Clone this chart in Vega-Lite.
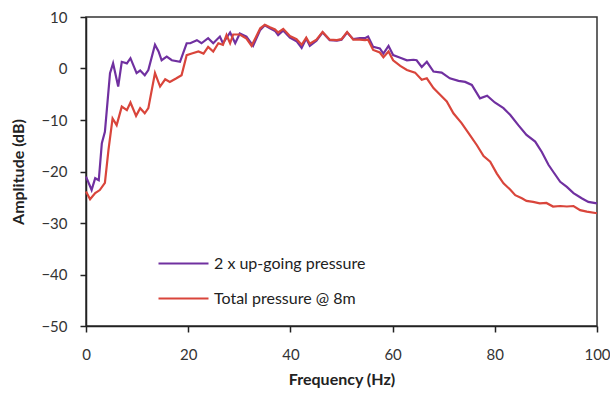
{
  "$schema": "https://vega.github.io/schema/vega-lite/v6.json",
  "width": 511,
  "height": 309,
  "autosize": "none",
  "padding": {"left": 86, "top": 17, "right": 13, "bottom": 67},
  "config": {
    "font": "Lato",
    "view": {"stroke": "#333", "strokeWidth": 1.5},
    "axis": {"grid": false, "domainColor": "#222", "domainWidth": 1.5, "tickColor": "#222", "tickWidth": 1.5, "tickSize": 6, "labelFont": "Lato", "labelFontSize": 15, "labelColor": "#333", "titleFont": "Lato", "titleFontSize": 16, "titleFontWeight": "bold", "titleColor": "#222"}
  },
  "datasets": {
    "pts": [
      {"f":0.0,"a":-21.0,"s":"2 x up-going pressure"},{"f":1.1,"a":-23.6,"s":"2 x up-going pressure"},{"f":1.8,"a":-21.3,"s":"2 x up-going pressure"},{"f":2.5,"a":-21.7,"s":"2 x up-going pressure"},{"f":3.1,"a":-14.5,"s":"2 x up-going pressure"},{"f":3.7,"a":-12.3,"s":"2 x up-going pressure"},{"f":4.7,"a":-0.9,"s":"2 x up-going pressure"},{"f":5.3,"a":1.0,"s":"2 x up-going pressure"},{"f":6.3,"a":-3.5,"s":"2 x up-going pressure"},{"f":7.0,"a":1.3,"s":"2 x up-going pressure"},{"f":8.0,"a":1.0,"s":"2 x up-going pressure"},{"f":8.7,"a":2.0,"s":"2 x up-going pressure"},{"f":9.9,"a":-0.9,"s":"2 x up-going pressure"},{"f":10.6,"a":-0.4,"s":"2 x up-going pressure"},{"f":11.5,"a":-1.3,"s":"2 x up-going pressure"},{"f":12.2,"a":-0.3,"s":"2 x up-going pressure"},{"f":13.5,"a":4.6,"s":"2 x up-going pressure"},{"f":14.2,"a":3.3,"s":"2 x up-going pressure"},{"f":14.8,"a":1.6,"s":"2 x up-going pressure"},{"f":15.8,"a":2.3,"s":"2 x up-going pressure"},{"f":16.8,"a":1.6,"s":"2 x up-going pressure"},{"f":18.4,"a":1.3,"s":"2 x up-going pressure"},{"f":19.7,"a":4.9,"s":"2 x up-going pressure"},{"f":20.4,"a":4.9,"s":"2 x up-going pressure"},{"f":21.7,"a":5.5,"s":"2 x up-going pressure"},{"f":22.6,"a":4.9,"s":"2 x up-going pressure"},{"f":23.9,"a":5.9,"s":"2 x up-going pressure"},{"f":24.9,"a":4.9,"s":"2 x up-going pressure"},{"f":26.2,"a":6.2,"s":"2 x up-going pressure"},{"f":26.8,"a":4.9,"s":"2 x up-going pressure"},{"f":28.2,"a":7.0,"s":"2 x up-going pressure"},{"f":29.2,"a":4.9,"s":"2 x up-going pressure"},{"f":30.1,"a":6.8,"s":"2 x up-going pressure"},{"f":31.4,"a":6.2,"s":"2 x up-going pressure"},{"f":32.7,"a":4.4,"s":"2 x up-going pressure"},{"f":34.1,"a":7.5,"s":"2 x up-going pressure"},{"f":35.0,"a":8.4,"s":"2 x up-going pressure"},{"f":36.0,"a":7.8,"s":"2 x up-going pressure"},{"f":37.0,"a":7.3,"s":"2 x up-going pressure"},{"f":37.6,"a":6.5,"s":"2 x up-going pressure"},{"f":38.6,"a":7.4,"s":"2 x up-going pressure"},{"f":39.9,"a":6.0,"s":"2 x up-going pressure"},{"f":41.2,"a":5.3,"s":"2 x up-going pressure"},{"f":42.2,"a":4.0,"s":"2 x up-going pressure"},{"f":43.1,"a":5.8,"s":"2 x up-going pressure"},{"f":43.8,"a":4.4,"s":"2 x up-going pressure"},{"f":45.1,"a":5.4,"s":"2 x up-going pressure"},{"f":46.3,"a":7.0,"s":"2 x up-going pressure"},{"f":47.7,"a":5.5,"s":"2 x up-going pressure"},{"f":49.1,"a":5.4,"s":"2 x up-going pressure"},{"f":50.0,"a":5.6,"s":"2 x up-going pressure"},{"f":51.1,"a":7.0,"s":"2 x up-going pressure"},{"f":52.3,"a":5.7,"s":"2 x up-going pressure"},{"f":53.6,"a":5.9,"s":"2 x up-going pressure"},{"f":54.6,"a":5.9,"s":"2 x up-going pressure"},{"f":55.2,"a":6.2,"s":"2 x up-going pressure"},{"f":56.2,"a":4.2,"s":"2 x up-going pressure"},{"f":57.5,"a":3.9,"s":"2 x up-going pressure"},{"f":58.2,"a":2.9,"s":"2 x up-going pressure"},{"f":59.2,"a":4.4,"s":"2 x up-going pressure"},{"f":60.1,"a":2.6,"s":"2 x up-going pressure"},{"f":61.5,"a":2.1,"s":"2 x up-going pressure"},{"f":62.8,"a":1.6,"s":"2 x up-going pressure"},{"f":64.1,"a":1.7,"s":"2 x up-going pressure"},{"f":64.7,"a":1.6,"s":"2 x up-going pressure"},{"f":65.7,"a":0.3,"s":"2 x up-going pressure"},{"f":66.7,"a":1.3,"s":"2 x up-going pressure"},{"f":68.0,"a":-0.6,"s":"2 x up-going pressure"},{"f":69.6,"a":-0.8,"s":"2 x up-going pressure"},{"f":71.2,"a":-1.9,"s":"2 x up-going pressure"},{"f":72.9,"a":-2.4,"s":"2 x up-going pressure"},{"f":74.2,"a":-2.6,"s":"2 x up-going pressure"},{"f":75.5,"a":-3.2,"s":"2 x up-going pressure"},{"f":77.1,"a":-5.8,"s":"2 x up-going pressure"},{"f":78.5,"a":-5.3,"s":"2 x up-going pressure"},{"f":80.0,"a":-6.6,"s":"2 x up-going pressure"},{"f":81.7,"a":-7.7,"s":"2 x up-going pressure"},{"f":83.0,"a":-9.0,"s":"2 x up-going pressure"},{"f":84.6,"a":-11.0,"s":"2 x up-going pressure"},{"f":86.2,"a":-12.9,"s":"2 x up-going pressure"},{"f":87.9,"a":-14.2,"s":"2 x up-going pressure"},{"f":89.2,"a":-16.2,"s":"2 x up-going pressure"},{"f":90.5,"a":-18.7,"s":"2 x up-going pressure"},{"f":91.4,"a":-20.0,"s":"2 x up-going pressure"},{"f":92.8,"a":-22.0,"s":"2 x up-going pressure"},{"f":94.1,"a":-23.0,"s":"2 x up-going pressure"},{"f":95.4,"a":-24.2,"s":"2 x up-going pressure"},{"f":97.0,"a":-25.2,"s":"2 x up-going pressure"},{"f":98.3,"a":-25.9,"s":"2 x up-going pressure"},{"f":100.0,"a":-26.2,"s":"2 x up-going pressure"},
      {"f":0.0,"a":-23.9,"s":"Total pressure @ 8m"},{"f":0.8,"a":-25.4,"s":"Total pressure @ 8m"},{"f":1.8,"a":-24.2,"s":"Total pressure @ 8m"},{"f":2.7,"a":-23.6,"s":"Total pressure @ 8m"},{"f":3.7,"a":-22.2,"s":"Total pressure @ 8m"},{"f":4.4,"a":-15.8,"s":"Total pressure @ 8m"},{"f":5.2,"a":-9.7,"s":"Total pressure @ 8m"},{"f":6.0,"a":-11.0,"s":"Total pressure @ 8m"},{"f":7.0,"a":-7.4,"s":"Total pressure @ 8m"},{"f":8.0,"a":-8.1,"s":"Total pressure @ 8m"},{"f":8.7,"a":-6.6,"s":"Total pressure @ 8m"},{"f":9.8,"a":-9.2,"s":"Total pressure @ 8m"},{"f":10.6,"a":-7.7,"s":"Total pressure @ 8m"},{"f":11.5,"a":-8.7,"s":"Total pressure @ 8m"},{"f":12.2,"a":-7.7,"s":"Total pressure @ 8m"},{"f":13.5,"a":-0.9,"s":"Total pressure @ 8m"},{"f":14.5,"a":-3.5,"s":"Total pressure @ 8m"},{"f":15.5,"a":-2.1,"s":"Total pressure @ 8m"},{"f":16.4,"a":-2.6,"s":"Total pressure @ 8m"},{"f":17.7,"a":-1.9,"s":"Total pressure @ 8m"},{"f":18.7,"a":-1.3,"s":"Total pressure @ 8m"},{"f":19.7,"a":2.6,"s":"Total pressure @ 8m"},{"f":20.7,"a":2.9,"s":"Total pressure @ 8m"},{"f":22.0,"a":3.3,"s":"Total pressure @ 8m"},{"f":23.0,"a":2.9,"s":"Total pressure @ 8m"},{"f":23.9,"a":4.2,"s":"Total pressure @ 8m"},{"f":24.9,"a":3.3,"s":"Total pressure @ 8m"},{"f":25.9,"a":4.9,"s":"Total pressure @ 8m"},{"f":26.8,"a":4.6,"s":"Total pressure @ 8m"},{"f":27.5,"a":6.5,"s":"Total pressure @ 8m"},{"f":28.2,"a":4.9,"s":"Total pressure @ 8m"},{"f":28.8,"a":6.6,"s":"Total pressure @ 8m"},{"f":30.1,"a":6.6,"s":"Total pressure @ 8m"},{"f":31.4,"a":5.8,"s":"Total pressure @ 8m"},{"f":32.4,"a":4.4,"s":"Total pressure @ 8m"},{"f":34.1,"a":7.8,"s":"Total pressure @ 8m"},{"f":35.0,"a":8.5,"s":"Total pressure @ 8m"},{"f":36.0,"a":8.0,"s":"Total pressure @ 8m"},{"f":37.0,"a":7.6,"s":"Total pressure @ 8m"},{"f":37.6,"a":7.0,"s":"Total pressure @ 8m"},{"f":38.6,"a":7.7,"s":"Total pressure @ 8m"},{"f":39.9,"a":6.3,"s":"Total pressure @ 8m"},{"f":41.2,"a":5.7,"s":"Total pressure @ 8m"},{"f":42.2,"a":4.6,"s":"Total pressure @ 8m"},{"f":43.1,"a":6.0,"s":"Total pressure @ 8m"},{"f":43.8,"a":4.8,"s":"Total pressure @ 8m"},{"f":45.1,"a":5.6,"s":"Total pressure @ 8m"},{"f":46.3,"a":7.1,"s":"Total pressure @ 8m"},{"f":47.7,"a":5.6,"s":"Total pressure @ 8m"},{"f":49.1,"a":5.5,"s":"Total pressure @ 8m"},{"f":50.0,"a":5.7,"s":"Total pressure @ 8m"},{"f":51.1,"a":7.1,"s":"Total pressure @ 8m"},{"f":52.3,"a":5.6,"s":"Total pressure @ 8m"},{"f":53.6,"a":5.6,"s":"Total pressure @ 8m"},{"f":54.6,"a":5.5,"s":"Total pressure @ 8m"},{"f":55.2,"a":5.6,"s":"Total pressure @ 8m"},{"f":56.2,"a":3.6,"s":"Total pressure @ 8m"},{"f":57.5,"a":3.1,"s":"Total pressure @ 8m"},{"f":58.2,"a":2.2,"s":"Total pressure @ 8m"},{"f":59.2,"a":3.3,"s":"Total pressure @ 8m"},{"f":60.1,"a":1.6,"s":"Total pressure @ 8m"},{"f":61.5,"a":0.5,"s":"Total pressure @ 8m"},{"f":62.8,"a":-0.3,"s":"Total pressure @ 8m"},{"f":64.4,"a":-0.8,"s":"Total pressure @ 8m"},{"f":65.7,"a":-2.2,"s":"Total pressure @ 8m"},{"f":66.7,"a":-1.9,"s":"Total pressure @ 8m"},{"f":68.0,"a":-3.8,"s":"Total pressure @ 8m"},{"f":69.3,"a":-5.1,"s":"Total pressure @ 8m"},{"f":70.6,"a":-6.4,"s":"Total pressure @ 8m"},{"f":71.9,"a":-8.7,"s":"Total pressure @ 8m"},{"f":73.5,"a":-10.6,"s":"Total pressure @ 8m"},{"f":75.1,"a":-12.9,"s":"Total pressure @ 8m"},{"f":76.5,"a":-14.9,"s":"Total pressure @ 8m"},{"f":77.8,"a":-17.0,"s":"Total pressure @ 8m"},{"f":79.1,"a":-18.1,"s":"Total pressure @ 8m"},{"f":80.4,"a":-20.4,"s":"Total pressure @ 8m"},{"f":81.7,"a":-22.3,"s":"Total pressure @ 8m"},{"f":83.0,"a":-23.5,"s":"Total pressure @ 8m"},{"f":84.0,"a":-24.6,"s":"Total pressure @ 8m"},{"f":85.3,"a":-25.2,"s":"Total pressure @ 8m"},{"f":86.2,"a":-25.7,"s":"Total pressure @ 8m"},{"f":87.5,"a":-25.9,"s":"Total pressure @ 8m"},{"f":88.8,"a":-26.2,"s":"Total pressure @ 8m"},{"f":90.1,"a":-26.1,"s":"Total pressure @ 8m"},{"f":91.4,"a":-26.8,"s":"Total pressure @ 8m"},{"f":92.8,"a":-26.7,"s":"Total pressure @ 8m"},{"f":94.1,"a":-26.8,"s":"Total pressure @ 8m"},{"f":95.4,"a":-26.7,"s":"Total pressure @ 8m"},{"f":96.7,"a":-27.5,"s":"Total pressure @ 8m"},{"f":98.0,"a":-27.8,"s":"Total pressure @ 8m"},{"f":100.0,"a":-28.1,"s":"Total pressure @ 8m"}
    ]
  },
  "data": {"name": "pts"},
  "mark": {"type": "line", "strokeWidth": 2.2, "interpolate": "linear"},
  "encoding": {
    "x": {"field": "f", "type": "quantitative", "title": "Frequency (Hz)",
      "scale": {"domain": [0, 100], "nice": false, "zero": false},
      "axis": {"values": [0, 20, 40, 60, 80, 100], "labelPadding": 15, "titlePadding": 9, "labelFlush": false}},
    "y": {"field": "a", "type": "quantitative", "title": "Amplitude (dB)",
      "scale": {"domain": [-50, 10], "nice": false, "zero": false},
      "axis": {"values": [-50, -40, -30, -20, -10, 0, 10], "labelPadding": 13, "titlePadding": 14}},
    "color": {"field": "s", "type": "nominal",
      "scale": {"domain": ["2 x up-going pressure", "Total pressure @ 8m"], "range": ["#7030A0", "#D9453B"]},
      "legend": {"title": null, "orient": "none", "legendX": 71, "legendY": 220, "symbolType": "stroke", "symbolSize": 2500, "symbolStrokeWidth": 2.2, "labelFont": "Lato", "labelFontSize": 16, "labelColor": "#222", "labelOffset": 4, "rowPadding": -17}}
  }
}
